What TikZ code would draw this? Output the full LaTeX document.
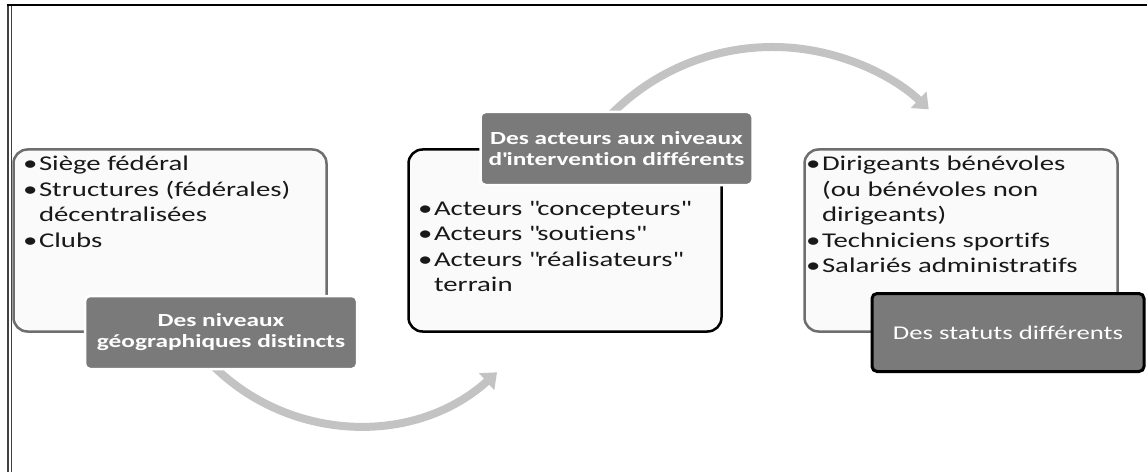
\documentclass[tikz,border=0pt]{standalone}
\usepackage{fontspec}
\setmainfont{Carlito}[FakeStretch=1.37,Ligatures=NoCommon]
\usetikzlibrary{arrows.meta}
\definecolor{boxfill}{HTML}{FAFAFA}
\definecolor{taggray}{HTML}{7A7A7A}
\definecolor{flowgray}{HTML}{C3C3C3}
\definecolor{edgegray}{HTML}{6E6E6E}
\newcommand{\itm}{\textbullet\hspace{1.5pt}}
\newcommand{\cont}{\phantom{\textbullet}\hspace{1.5pt}}

\begin{document}
\begin{tikzpicture}[x=1pt,y=1pt,
    box/.style={rounded corners=14pt,line width=2.5pt,fill=boxfill,minimum width=313pt,minimum height=182pt},
    tag/.style={fill=taggray,draw=white,line width=2.5pt,rounded corners=5pt,minimum width=272pt,minimum height=73pt,
      text=white,font=\bfseries\fontsize{18.5}{21}\selectfont,align=center},
    items/.style={anchor=north west,inner sep=0pt,align=left,text=black!90,font=\fontsize{21}{25.5}\selectfont},
    flow/.style={draw=flowgray,line width=8pt,-{Triangle[width=22pt,length=14pt]}}]
  \useasboundingbox (0,0) rectangle (1147,472);
  \draw[line width=1.2pt,black!75] (8,0) -- (8,467) (11.5,0) -- (11.5,467);
  \draw[line width=1.5pt] (7.4,467) -- (1147,467);
  \coordinate (c1) at (358.5,253.5);
  \coordinate (c2) at (772.5,198);
  \draw[flow] ([shift={(222:207)}]c1) arc[start angle=222,end angle=312,radius=207pt];
  \draw[flow] ([shift={(140:227)}]c2) arc[start angle=140,end angle=46.5,radius=227pt];
  \node[box,draw=edgegray] (b1) at (170,231.5) {};
  \node[box,draw=black] (b2) at (565,231.5) {};
  \node[box,draw=edgegray] (b3) at (961,231.5) {};
  \node[items] (t1) at (23,316) {\itm Siège fédéral\\
    \itm Structures (fédérales)\\
    \cont décentralisées\\
    \itm Clubs};
  \node[items] (t2) at (418,271) {\itm Acteurs \textquotedbl concepteurs\textquotedbl\\
    \itm Acteurs \textquotedbl soutiens\textquotedbl\\
    \itm Acteurs \textquotedbl réalisateurs\textquotedbl\\
    \cont terrain};
  \node[items] (t3) at (806,316) {\itm Dirigeants bénévoles\\
    \cont(ou bénévoles non\\
    \cont dirigeants)\\
    \itm Techniciens sportifs\\
    \itm Salariés administratifs};
  \node[tag] (l1) at (221,139.5) {Des niveaux\\géographiques distincts};
  \node[tag] (l2) at (616.5,323.5) {Des acteurs aux niveaux\\d\textquotesingle intervention différents};
  \node[tag,draw=black,line width=3pt,minimum height=78pt,font=\fontsize{19.5}{22}\selectfont] (l3) at (1008,139.5) {Des statuts différents};
\end{tikzpicture}
\end{document}
